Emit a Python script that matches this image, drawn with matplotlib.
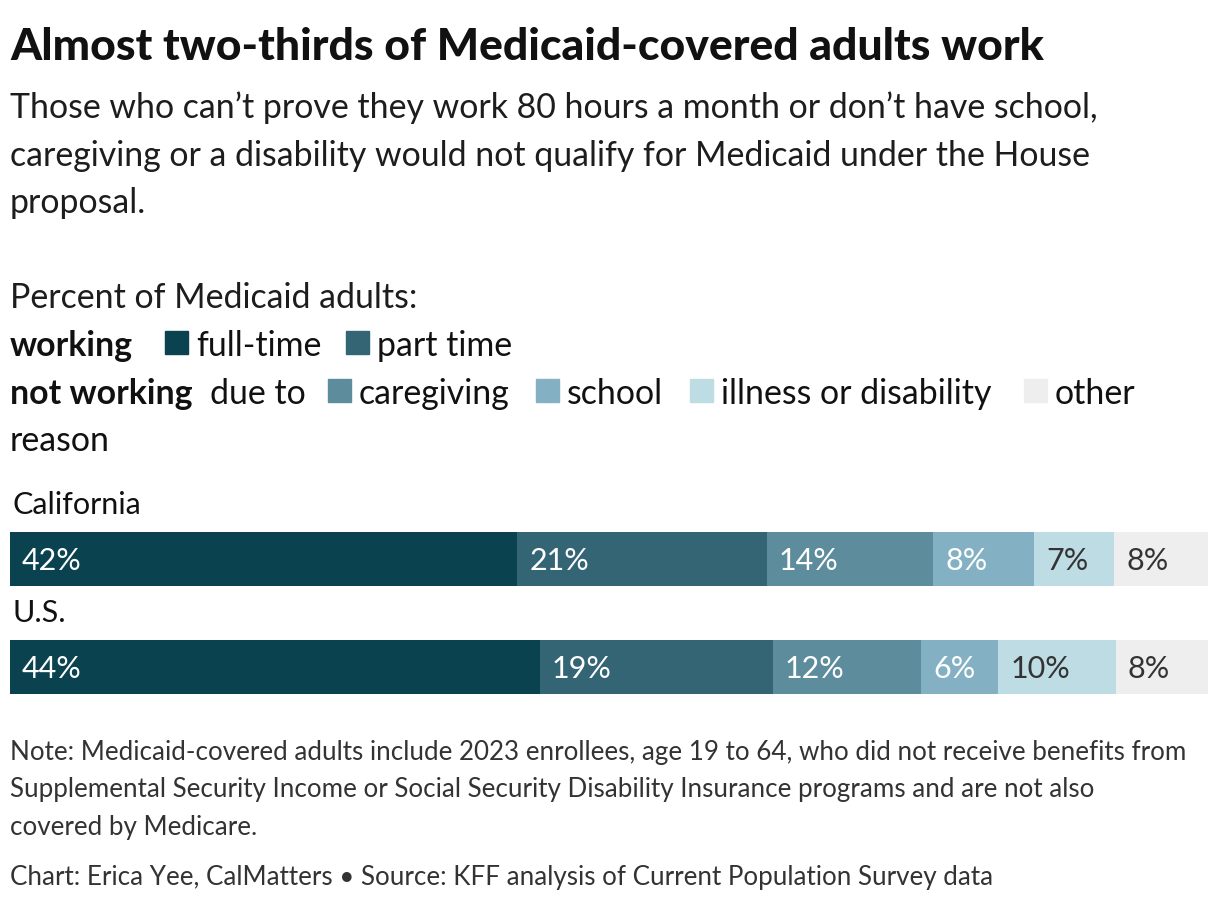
import numpy as np
import matplotlib.pyplot as plt

# data
regions = ['California', 'U.S.']
categories = ['full-time', 'part time', 'caregiving', 'school', 'illness or disability', 'other']
values = {
    'California': [42.3, 20.8, 13.9, 8.4, 6.7, 7.8],
    'U.S.': [44.2, 19.4, 12.4, 6.4, 9.8, 7.7],
}
colors = ['#0a4250', '#346575', '#5d8c9d', '#83b1c3', '#bddce4', '#eeeeee']
label_colors = ['white', 'white', 'white', 'white', '#333333', '#333333']

title = 'Almost two-thirds of Medicaid-covered adults work'
subtitle = ['Those who can\u2019t prove they work 80 hours a month or don\u2019t have school,',
            'caregiving or a disability would not qualify for Medicaid under the House',
            'proposal.']
notes = ['Note: Medicaid-covered adults include 2023 enrollees, age 19 to 64, who did not receive benefits from',
         'Supplemental Security Income or Social Security Disability Insurance programs and are not also',
         'covered by Medicare.']
source = 'Chart: Erica Yee, CalMatters \u2022 Source: KFF analysis of Current Population Survey data'

plt.rcParams['font.family'] = ['Lato', 'DejaVu Sans']

W, H = 1220, 908
fig = plt.figure(figsize=(W / 100, H / 100), dpi=100)


def px(x, y):
    return x / W, 1 - y / H


def ftext(x, y, s, **kw):
    kw.setdefault('va', 'baseline')
    kw.setdefault('ha', 'left')
    fig.text(*px(x, y), s, **kw)


ftext(10, 60, title, fontsize=32, fontweight='black', color='#111111')
for i, line in enumerate(subtitle):
    ftext(10, 118 + i * 47.5, line, fontsize=24.4, color='#1d1d1d')

# legend
ftext(10, 308, 'Percent of Medicaid adults:', fontsize=24.4, color='#1d1d1d')
leg_rows = [
    [('working', 10, True), (0, 165), (1, 346)],
    [('not working', 10, True), ('due to', 210, False), (2, 328), (3, 536), (4, 690), (5, 1024)],
]
row_y = [356, 404]
for r, items in enumerate(leg_rows):
    y = row_y[r]
    for it in items:
        if isinstance(it[0], str):
            ftext(it[1], y, it[0], fontsize=24.4, color='#111111',
                  fontweight='bold' if it[2] else 'normal')
        else:
            k, x0 = it
            fig.patches.append(plt.Rectangle(px(x0, y - 2), 23 / W, 23 / H,
                                             transform=fig.transFigure,
                                             color=colors[k], zorder=3))
            ftext(x0 + 31, y, categories[k], fontsize=24.4, color='#111111')
ftext(10, 451, 'reason', fontsize=24.4, color='#111111')

# bars
ax = fig.add_axes([10 / W, 1 - 694 / H, 1198 / W, 162 / H])
for i, reg in enumerate(regions):
    left = 0
    for k, v in enumerate(values[reg]):
        ax.barh(i, v, left=left, height=0.5, color=colors[k], edgecolor='none')
        ax.text(left + 1.0, i + 0.02, f'{v:.0f}%', va='center', ha='left',
                fontsize=22, color=label_colors[k])
        left += v
    ax.text(0.2, i - 0.5, reg, va='center', ha='left', fontsize=22, color='#111111')
ax.set_xlim(0, 99.9)
ax.set_ylim(1.25, -0.25)
ax.axis('off')

for i, line in enumerate(notes):
    ftext(10, 760 + i * 37.5, line, fontsize=18.7, color='#333333')
ftext(10, 885, source, fontsize=18.7, color='#333333')

fig.savefig('out.png', dpi=100, facecolor='white')
